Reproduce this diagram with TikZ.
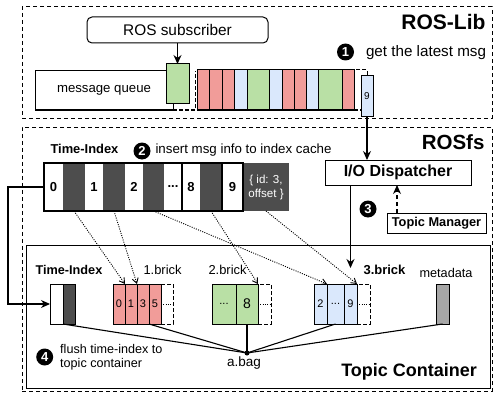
\documentclass[tikz,border=0pt]{standalone}
\usepackage{fontspec}
\setmainfont{Liberation Sans}
\usetikzlibrary{arrows.meta}
\definecolor{cred}{HTML}{F19C99}
\definecolor{cgreen}{HTML}{B9E0A5}
\definecolor{cblue}{HTML}{DAE8FC}
\definecolor{cdark}{HTML}{4D4D4D}
\definecolor{cgray}{HTML}{A6A6A6}
\newcommand{\mkbox}[7]{\node[#2,anchor=north west,inner sep=0pt,outer sep=0pt,minimum width={(#5-#3)*1pt},minimum height={(#6-#4)*1pt}] (#1) at (#3,#4) {#7};}
\begin{document}
\begin{tikzpicture}[x=1pt,y=-1pt,
  fs/.style={font=\fontsize{#1}{#1}\selectfont},
  fb/.style={font=\fontsize{#1}{#1}\selectfont\bfseries},
  frame/.style={draw, line width=1pt, dash pattern=on 4pt off 3pt},
  box/.style={draw, line width=1pt},
  slot/.style={draw, line width=1pt, dash pattern=on 4pt off 2pt},
  tcell/.style={fb=13},
  dcell/.style={fill=cdark},
  num/.style={circle, fill=black, text=white, inner sep=0pt, minimum size=17pt, font=\fontsize{13}{13}\selectfont\bfseries},
  arr/.style={line width=1.1pt, -{Stealth[length=9pt,width=8pt]}},
  dots/.style={line width=0.9pt, dash pattern=on 1pt off 1.3pt, -{Straight Barb[length=5pt,width=6pt]}},
  midl/.style={line width=0.9pt, dash pattern=on 1pt off 1.3pt},
  link/.style={line width=1.1pt},
  dotm/.style={circle, fill=black, inner sep=0pt, minimum size=5pt}
]
\useasboundingbox (0,0) rectangle (493,396);
% ---------------- ROS-Lib
\mkbox{roslib}{frame}{22}{7}{492}{118}{}
\node[fb=21, anchor=base east] (roslibl) at (489,30) {ROS-Lib};
\mkbox{sub}{box, rounded corners=5pt, fs=15.4}{87}{17}{268}{43}{ROS subscriber}
\mkbox{mq}{box, fill=white, fs=13.2}{35}{71}{173}{110}{message queue}
\draw[slot] (173,110) -- (195,110) -- (195,71);
\mkbox{gnew}{box, fill=cgreen}{166}{64}{189}{104}{}
\draw[arr] (sub.south) -- (gnew.north);
\mkbox{slotr}{slot}{354}{70}{367}{110}{}
\mkbox{q1}{box, fill=cred}{197}{70}{209}{110}{}
\mkbox{q2}{box, fill=cred}{209}{70}{222}{110}{}
\mkbox{q3}{box, fill=cred}{222}{70}{234}{110}{}
\mkbox{q4}{box, fill=cblue}{234}{70}{247}{110}{}
\mkbox{q5}{box, fill=cgreen}{247}{70}{269}{110}{}
\mkbox{q6}{box, fill=cblue}{269}{70}{282}{110}{}
\mkbox{q7}{box, fill=cred}{282}{70}{294}{110}{}
\mkbox{q8}{box, fill=cred}{294}{70}{306}{110}{}
\mkbox{q9}{box, fill=cblue}{306}{70}{318}{110}{}
\mkbox{q10}{box, fill=cgreen}{318}{70}{342}{110}{}
\mkbox{q11}{box, fill=cred}{342}{70}{354}{110}{}
\mkbox{nine}{box, fill=cblue, fs=10}{361}{76}{373}{116}{9}
\node[num] (n1) at (345.5,52) {1};
\node[fs=15.2, anchor=base west] (getl) at (362.5,57) {get the latest msg};
% ---------------- ROSfs
\mkbox{rosfs}{frame}{22}{127}{492}{391}{}
\node[fb=20.5, anchor=base east] (rosfsl) at (488,149) {ROSfs};
\node[fb=12.9, anchor=base west] (til) at (47,153.3) {Time-Index};
\node[num] (n2) at (142,151) {2};
\node[fs=13.3, anchor=base west] (insl) at (152,153.3) {insert msg info to index cache};
% time index bar
\mkbox{ti0}{tcell}{44}{163}{63}{211}{0}
\mkbox{tid1}{dcell}{63}{163}{85}{211}{}
\mkbox{ti1}{tcell}{85}{163}{103}{211}{1}
\mkbox{tid2}{dcell}{103}{163}{125}{211}{}
\mkbox{ti2}{tcell}{125}{163}{143}{211}{2}
\mkbox{tid3}{dcell}{143}{163}{164}{211}{}
\mkbox{tidots}{tcell}{164}{163}{182}{211}{...}
\mkbox{ti8}{tcell}{182}{163}{200}{211}{8}
\mkbox{tid8}{dcell}{200}{163}{222}{211}{}
\mkbox{ti9}{tcell}{222}{163}{243}{211}{9}
\mkbox{tiid}{dcell, text=white, align=center, font=\fontsize{11.6}{14}\selectfont}{243}{163}{289}{211}{\{ id: 3,\\offset \}}
\draw[line width=1.1pt] (ti0.north west) rectangle (ti9.south east);
\draw[line width=1.1pt] (ti8.north west) -- (ti8.south west) (ti9.north west) -- (ti9.south west);
% dispatcher and manager
\mkbox{io}{box, fb=16}{325}{160}{471}{185}{I/O Dispatcher}
\mkbox{tm}{box, fb=12.8}{387}{213}{486}{233}{Topic Manager}
\coordinate (tmup) at ([xshift=10pt]tm.north west);
\draw[arr, dash pattern=on 4pt off 3pt] (tmup) -- (tmup |- io.south);
\node[num] (n3) at (368,209) {3};
\draw[arr] (nine.south) -- (nine.south |- io.north);
% ---------------- Topic Container
\mkbox{tc}{box}{26}{245}{490}{388}{}
\node[fb=18, anchor=base east] (tcl) at (480.5,376.7) {Topic Container};
\node[fb=12.7, anchor=base west] (til2) at (32,274) {Time-Index};
\mkbox{tcw}{box, fill=white}{50}{284}{63}{324}{}
\mkbox{tcd}{box, fill=cdark}{63}{284}{75}{324}{}
\coordinate (bendx) at (8,250);
\draw[arr] (ti0.west) -- (ti0.west -| bendx) |- (tcw.west);
% 1.brick
\node[fs=12.9, anchor=base west] (b1l) at (140,274) {1.brick};
\mkbox{b1s}{slot}{161}{284}{173}{324}{}
\draw[midl] (b1s.west) -- (b1s.east);
\mkbox{b1a}{box, fill=cred, fs=11}{113}{284}{125}{324}{0}
\mkbox{b1b}{box, fill=cred, fs=11}{125}{284}{137}{324}{1}
\mkbox{b1c}{box, fill=cred, fs=11}{137}{284}{149}{324}{3}
\mkbox{b1d}{box, fill=cred, fs=11}{149}{284}{161}{324}{5}
% 2.brick
\node[fs=12.9, anchor=base west] (b2l) at (205,274) {2.brick};
\mkbox{b2s}{slot}{258}{284}{271}{324}{}
\draw[midl] (b2s.west) -- (b2s.east);
\mkbox{b2a}{box, fill=cgreen, fs=11}{212}{284}{236}{324}{...}
\mkbox{b2b}{box, fill=cgreen, fs=14}{236}{284}{258}{324}{8}
% 3.brick
\node[fb=13, anchor=base west] (b3l) at (360,274) {3.brick};
\mkbox{b3s}{slot}{357}{284}{370}{324}{}
\draw[midl] (b3s.west) -- (b3s.east);
\mkbox{b3a}{box, fill=cblue, fs=11}{314}{284}{327}{324}{2}
\mkbox{b3b}{box, fill=cblue, fs=11}{327}{284}{344}{324}{...}
\mkbox{b3c}{box, fill=cblue, fs=11}{344}{284}{357}{324}{9}
% metadata
\node[fs=12.7, anchor=base west] (metal) at (416,277.7) {metadata};
\mkbox{meta}{box, fill=cgray}{436}{284}{449}{324}{}
\draw[arr] (io.south -| b3c.north) -- ([yshift=16pt]b3c.north);
% a.bag
\path (b2b.south) ++(0,29) node[dotm] (bag) {};
\node[fs=13.5, anchor=base] (bagl) at ([xshift=-3pt,yshift=-13pt]bag.center) {a.bag};
\draw[link] (tcw.south east) -- (bag.center);
\draw[link] (b1c.south east) -- (bag.center);
\draw[link] (b2b.south) -- (bag.center);
\draw[link] (b3b.south) -- (bag.center);
\draw[link] (meta.south) -- (bag.center);
% dotted index arrows
\draw[dots] (tid1.south) -- (b1a.north east);
\draw[dots] (tid2.south) -- (b1b.north east);
\draw[dots] (tid3.south) -- (b3a.north east);
\draw[dots] (tid8.south) -- (b2b.north east);
\draw[dots] (tiid.south) -- (b3c.north east);
% step 4
\node[num] (n4) at (44.7,357) {4};
\node[anchor=north west, align=left, inner sep=0pt, font=\fontsize{12.6}{14}\selectfont] (flush) at (60,344) {flush time-index to\\topic container};
\end{tikzpicture}
\end{document}
